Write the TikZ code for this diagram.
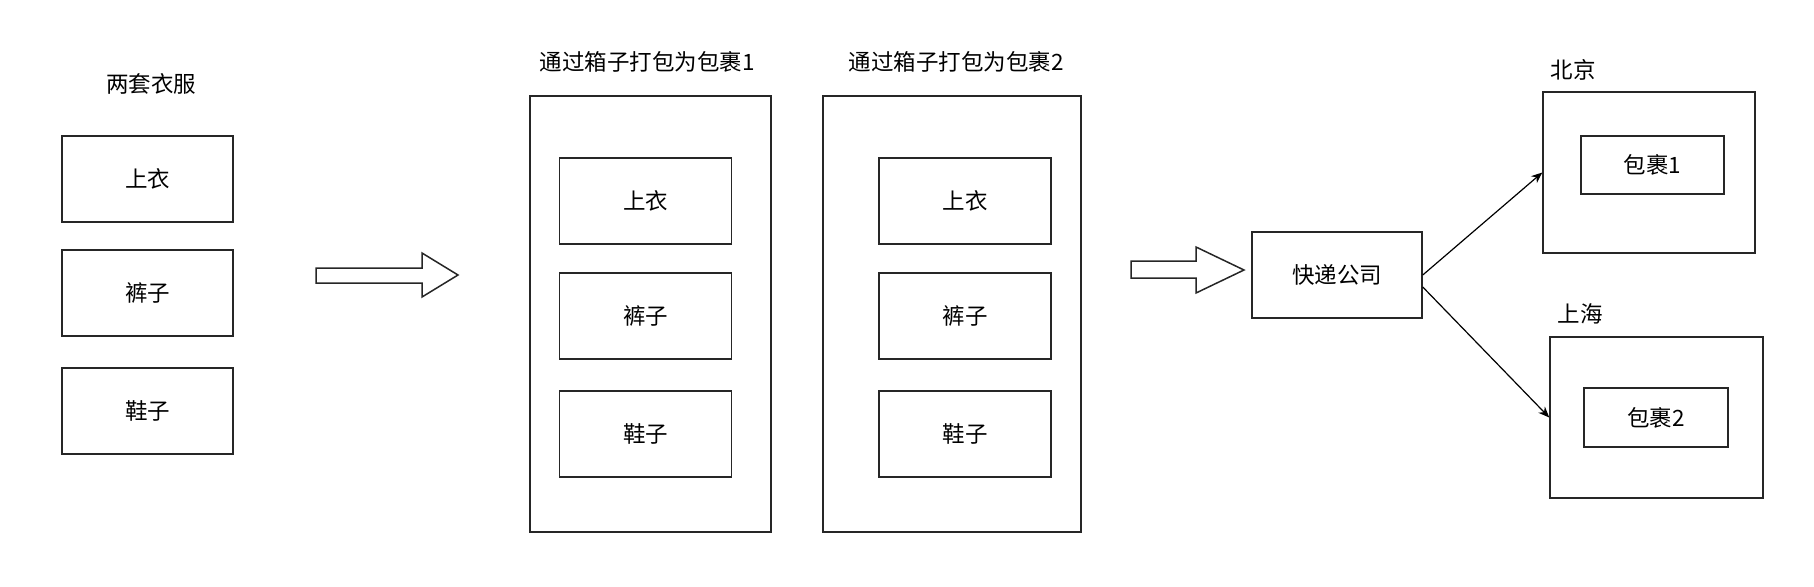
\documentclass[tikz,border=0pt]{standalone}
\usepackage{fontspec}
\newfontfamily\cjk{Noto Sans CJK SC}
\usetikzlibrary{arrows.meta}
\begin{document}
\begin{tikzpicture}[x=1pt,y=-1pt,
  every node/.style={font=\cjk\fontsize{22.5}{26}\selectfont, text=black},
  box/.style={draw=black!85, line width=1.5pt, inner sep=0pt},
  item/.style={box, minimum width=172pt, minimum height=86pt},
  lbl/.style={inner sep=0pt},
  blockarrow/.style={draw=black!85, line width=1.5pt, fill=white, line join=miter},
  conn/.style={draw=black, line width=1.2pt, -{Stealth[length=11pt,width=9pt]}}]
\useasboundingbox (0,0) rectangle (1814,586);
% left group
\node[lbl] (t0) at (151,84) {两套衣服};
\node[box, minimum width=171pt, minimum height=86pt] (a1) at (147.5,179) {上衣};
\node[box, minimum width=171pt, minimum height=86pt] (a2) at (147.5,293) {裤子};
\node[box, minimum width=171pt, minimum height=86pt] (a3) at (147.5,411) {鞋子};
% block arrow 1
\draw[blockarrow] (316,268) -- (422,268) -- (422,253) -- (458,275) -- (422,297) -- (422,283) -- (316,283) -- cycle;
% package 1
\node[lbl] (t1) at (647,62) {通过箱子打包为包裹1};
\node[box, minimum width=241pt, minimum height=436pt] (o1) at (650.5,314) {};
\node[item] (b1) at (645.5,201) {上衣};
\node[item] (b2) at (645.5,316) {裤子};
\node[item] (b3) at (645.5,434) {鞋子};
% package 2
\node[lbl] (t2) at (956,62) {通过箱子打包为包裹2};
\node[box, minimum width=258pt, minimum height=436pt] (o2) at (952,314) {};
\node[item] (c1) at (965,201) {上衣};
\node[item] (c2) at (965,316) {裤子};
\node[item] (c3) at (965,434) {鞋子};
% block arrow 2
\draw[blockarrow] (1131,261) -- (1196,261) -- (1196,247) -- (1244,270) -- (1196,293) -- (1196,278) -- (1131,278) -- cycle;
% courier
\node[box, minimum width=170pt, minimum height=86pt] (kd) at (1337,275) {快递公司};
% Beijing
\node[lbl] (tbj) at (1573,70) {北京};
\node[box, minimum width=212pt, minimum height=161pt] (bj) at (1649,172.5) {};
\node[box, minimum width=143pt, minimum height=58pt] (p1) at (1652.5,165) {包裹1};
% Shanghai
\node[lbl] (tsh) at (1580,314) {上海};
\node[box, minimum width=213pt, minimum height=161pt] (sh) at (1656.5,417.5) {};
\node[box, minimum width=144pt, minimum height=59pt] (p2) at (1656,417.5) {包裹2};
% connectors
\draw[conn] (kd.east) -- (bj.west);
\draw[conn] ([yshift=-12pt]kd.east) -- (sh.west);
\end{tikzpicture}
\end{document}
